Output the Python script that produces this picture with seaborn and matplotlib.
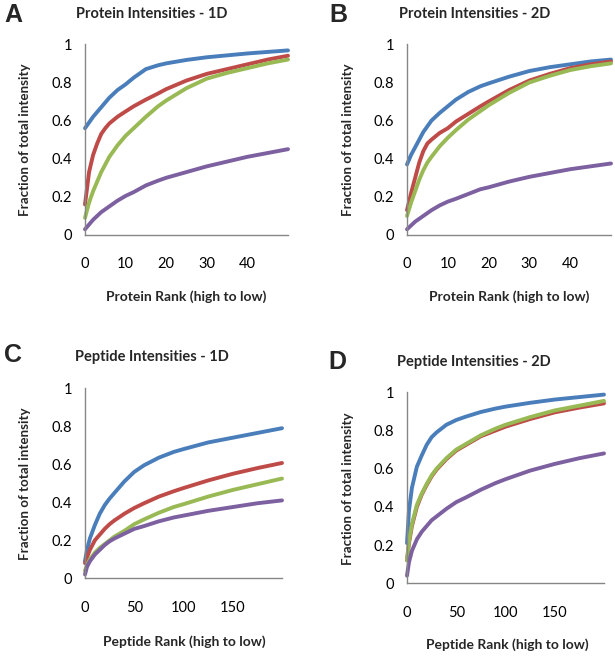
import matplotlib
matplotlib.use("Agg")
import matplotlib.pyplot as plt
import numpy as np
import pandas as pd
import seaborn as sns

sns.set_theme(style="white")
plt.rcParams["font.family"] = ["Lato", "DejaVu Sans"]

# ---------------- data ----------------
series_names = ["Series 1", "Series 2", "Series 3", "Series 4"]
colors = ["#4A7EBB", "#BE4B48", "#98B954", "#7D60A0"]

protein_rank = [0, 1, 2, 3, 4, 5, 6, 8, 10, 12, 15, 18, 20, 25, 30, 35, 40, 45, 50]
A_blue = [0.56, 0.59, 0.62, 0.645, 0.67, 0.695, 0.72, 0.76, 0.79, 0.825, 0.87, 0.89, 0.90, 0.918, 0.932, 0.942, 0.952, 0.96, 0.968]
A_red = [0.16, 0.33, 0.42, 0.48, 0.53, 0.56, 0.585, 0.62, 0.648, 0.675, 0.71, 0.742, 0.765, 0.81, 0.845, 0.87, 0.895, 0.92, 0.94]
A_green = [0.09, 0.17, 0.23, 0.28, 0.33, 0.37, 0.41, 0.47, 0.52, 0.56, 0.62, 0.675, 0.705, 0.77, 0.82, 0.85, 0.875, 0.90, 0.92]
A_purple = [0.03, 0.055, 0.08, 0.10, 0.12, 0.135, 0.15, 0.18, 0.205, 0.225, 0.26, 0.285, 0.30, 0.33, 0.36, 0.385, 0.41, 0.43, 0.45]

B_blue = [0.37, 0.42, 0.46, 0.50, 0.54, 0.57, 0.60, 0.64, 0.675, 0.71, 0.75, 0.78, 0.795, 0.83, 0.86, 0.88, 0.895, 0.91, 0.92]
B_red = [0.13, 0.22, 0.30, 0.38, 0.44, 0.48, 0.50, 0.535, 0.56, 0.595, 0.635, 0.675, 0.70, 0.76, 0.81, 0.845, 0.875, 0.895, 0.91]
B_green = [0.10, 0.17, 0.23, 0.29, 0.34, 0.38, 0.41, 0.465, 0.51, 0.55, 0.605, 0.65, 0.68, 0.745, 0.80, 0.835, 0.865, 0.885, 0.90]
B_purple = [0.03, 0.05, 0.07, 0.085, 0.10, 0.115, 0.13, 0.155, 0.175, 0.19, 0.215, 0.24, 0.25, 0.28, 0.305, 0.325, 0.345, 0.36, 0.375]

peptide_rank = [0, 2, 5, 10, 15, 20, 25, 30, 40, 50, 60, 75, 90, 100, 125, 150, 175, 200]
C_blue = [0.09, 0.15, 0.21, 0.28, 0.34, 0.385, 0.42, 0.45, 0.51, 0.56, 0.595, 0.635, 0.665, 0.68, 0.715, 0.74, 0.765, 0.79]
C_red = [0.08, 0.11, 0.15, 0.20, 0.23, 0.26, 0.285, 0.305, 0.34, 0.37, 0.395, 0.43, 0.458, 0.475, 0.515, 0.55, 0.58, 0.607]
C_green = [0.04, 0.07, 0.10, 0.135, 0.16, 0.18, 0.20, 0.22, 0.25, 0.285, 0.31, 0.345, 0.375, 0.39, 0.43, 0.465, 0.495, 0.525]
C_purple = [0.02, 0.06, 0.09, 0.125, 0.15, 0.175, 0.195, 0.21, 0.235, 0.26, 0.275, 0.30, 0.32, 0.33, 0.355, 0.375, 0.395, 0.41]

D_blue = [0.21, 0.38, 0.50, 0.61, 0.67, 0.725, 0.765, 0.79, 0.83, 0.855, 0.873, 0.897, 0.915, 0.925, 0.945, 0.962, 0.975, 0.988]
D_red = [0.12, 0.21, 0.30, 0.40, 0.465, 0.515, 0.56, 0.595, 0.65, 0.695, 0.725, 0.77, 0.80, 0.82, 0.86, 0.895, 0.92, 0.942]
D_green = [0.12, 0.22, 0.31, 0.41, 0.47, 0.52, 0.565, 0.60, 0.655, 0.70, 0.73, 0.775, 0.81, 0.83, 0.87, 0.905, 0.93, 0.955]
D_purple = [0.04, 0.11, 0.17, 0.23, 0.27, 0.30, 0.33, 0.35, 0.39, 0.425, 0.45, 0.49, 0.525, 0.545, 0.59, 0.625, 0.655, 0.68]

panel_letters = ["A", "B", "C", "D"]
panel_titles = ["Protein Intensities - 1D", "Protein Intensities - 2D",
                "Peptide Intensities - 1D", "Peptide Intensities - 2D"]
x_labels = ["Protein Rank (high to low)", "Protein Rank (high to low)",
            "Peptide Rank (high to low)", "Peptide Rank (high to low)"]
y_label = "Fraction of total intensity"
y_ticks = [0, 0.2, 0.4, 0.6, 0.8, 1]
y_ticklabels = ["0", "0.2", "0.4", "0.6", "0.8", "1"]

# ---------------- figure ----------------
W, H = 615, 657
fig = plt.figure(figsize=(W / 100, H / 100), dpi=100)
fig.patch.set_facecolor("white")


def axpos(l, r, t, b):
    return [l / W, 1 - b / H, (r - l) / W, (b - t) / H]


panels = [
    dict(pos=axpos(85, 288, 44.3, 235), x=protein_rank, ys=[A_blue, A_red, A_green, A_purple],
         xmax=50, minor=5, major=10, lastlabel=40,
         letter=(13, 15), title=(152, 14), xlab=(186, 297), ylab=(25, 140)),
    dict(pos=axpos(407, 611, 44.3, 235), x=protein_rank, ys=[B_blue, B_red, B_green, B_purple],
         xmax=50, minor=5, major=10, lastlabel=40,
         letter=(338, 15), title=(475, 14), xlab=(509, 297), ylab=(348, 140)),
    dict(pos=axpos(85, 282, 388.3, 578.3), x=peptide_rank, ys=[C_blue, C_red, C_green, C_purple],
         xmax=200, minor=25, major=50, lastlabel=150,
         letter=(13, 355), title=(152, 357), xlab=(184, 642), ylab=(25, 484)),
    dict(pos=axpos(407, 604, 392.3, 583.3), x=peptide_rank, ys=[D_blue, D_red, D_green, D_purple],
         xmax=200, minor=25, major=50, lastlabel=150,
         letter=(337, 362), title=(474, 362), xlab=(507, 645), ylab=(348, 489)),
]

spine_col = "#868686"
for i, p in enumerate(panels):
    ax = fig.add_axes(p["pos"])
    frames = []
    for name, yv in zip(series_names, p["ys"]):
        frames.append(pd.DataFrame({"rank": p["x"], "value": yv, "series": name}))
    df = pd.concat(frames, ignore_index=True)
    sns.lineplot(data=df, x="rank", y="value", hue="series", palette=colors,
                 linewidth=2.8, legend=False, ax=ax, sort=True,
                 solid_capstyle="round", solid_joinstyle="round", clip_on=False)
    ax.set_xlim(0, p["xmax"])
    ax.set_ylim(0, 1)
    ax.set_xlabel("")
    ax.set_ylabel("")
    for s in ["top", "right"]:
        ax.spines[s].set_visible(False)
    for s in ["left", "bottom"]:
        ax.spines[s].set_color(spine_col)
        ax.spines[s].set_linewidth(1.0)
    xt = list(range(0, p["xmax"] + 1, p["minor"]))
    ax.set_xticks(xt)
    ax.set_xticklabels([str(v) if (v % p["major"] == 0 and v <= p["lastlabel"]) else "" for v in xt])
    ax.set_yticks(y_ticks)
    ax.set_yticklabels(y_ticklabels)
    ax.tick_params(axis="x", direction="out", length=4, width=1, color=spine_col,
                   labelsize=10.5, pad=12, labelcolor="black")
    ax.tick_params(axis="y", direction="out", length=4, width=1, color=spine_col,
                   labelsize=10.5, pad=5, labelcolor="black")
    ax.set_facecolor("white")

    fig.text(p["letter"][0] / W, 1 - p["letter"][1] / H, panel_letters[i],
             family=["Liberation Sans", "DejaVu Sans"], fontweight="bold",
             fontsize=18, ha="center", va="center")
    fig.text(p["title"][0] / W, 1 - p["title"][1] / H, panel_titles[i],
             fontweight="bold", fontsize=10.5, ha="center", va="center")
    fig.text(p["xlab"][0] / W, 1 - p["xlab"][1] / H, x_labels[i],
             fontweight="bold", fontsize=10, ha="center", va="center")
    fig.text(p["ylab"][0] / W, 1 - p["ylab"][1] / H, y_label,
             fontweight="bold", fontsize=9.6, ha="center", va="center", rotation=90)

fig.savefig("out.png", dpi=100, facecolor="white")
